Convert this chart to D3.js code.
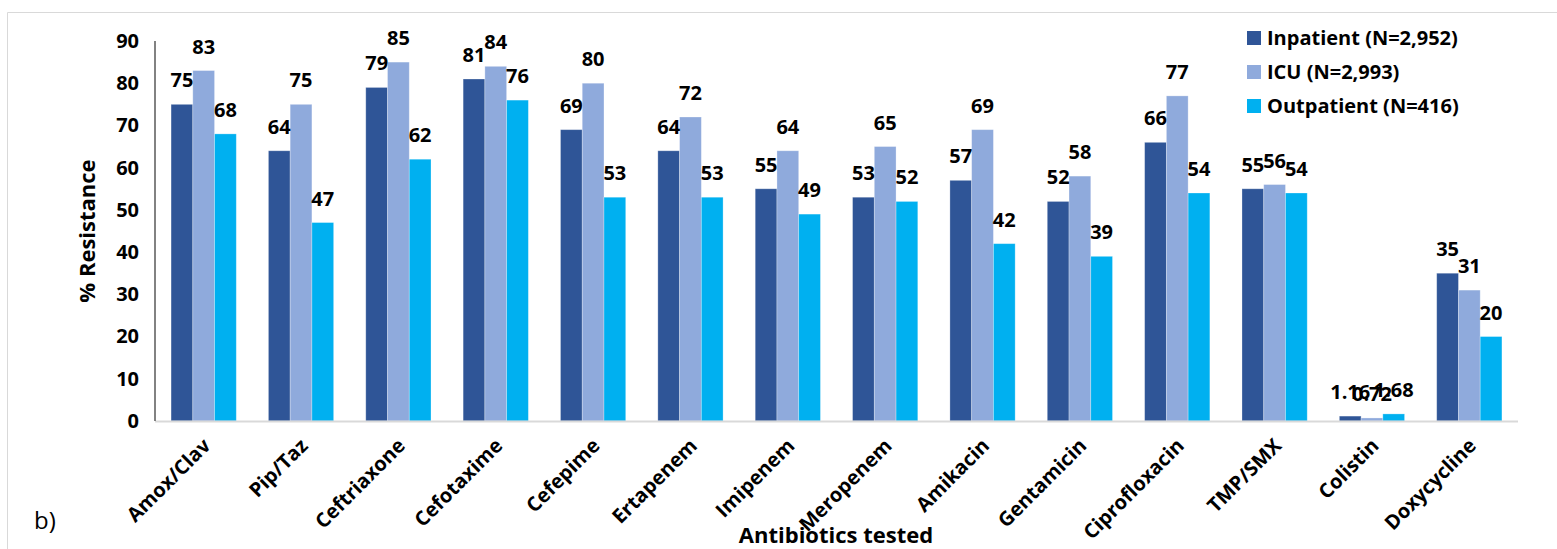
<!DOCTYPE html>
<html>
<head>
<meta charset="utf-8">
<script src="https://cdn.jsdelivr.net/npm/d3@7"></script>
<style>
  html, body { margin: 0; padding: 0; background: #fff; }
  svg { display: block; font-family: "Open Sans", "Noto Sans", sans-serif; }
</style>
</head>
<body>
<svg id="chart" width="1557" height="549"></svg>
<script>
// Antibiotic resistance by patient setting
const antibiotics = ["Amox/Clav", "Pip/Taz", "Ceftriaxone", "Cefotaxime", "Cefepime", "Ertapenem",
  "Imipenem", "Meropenem", "Amikacin", "Gentamicin", "Ciprofloxacin", "TMP/SMX", "Colistin", "Doxycycline"];
const seriesNames = ["Inpatient (N=2,952)", "ICU (N=2,993)", "Outpatient (N=416)"];
const inpatient  = [75, 64, 79, 81, 69, 64, 55, 53, 57, 52, 66, 55, 1.16, 35];
const icu        = [83, 75, 85, 84, 80, 72, 64, 65, 69, 58, 77, 56, 0.72, 31];
const outpatient = [68, 47, 62, 76, 53, 53, 49, 52, 42, 39, 54, 54, 1.68, 20];
const yTicks = [0, 10, 20, 30, 40, 50, 60, 70, 80, 90];
const colors = ["#2F5597", "#8FAADC", "#00B0F0"];

const series = [inpatient, icu, outpatient];
const svg = d3.select("#chart");

// outer frame
svg.append("path")
  .attr("d", "M7.5,549 V12.5 H1557")
  .attr("fill", "none").attr("stroke", "#d9d9d9").attr("stroke-width", 1);

const plotLeft = 155, plotRight = 1518, plotTop = 41, plotBottom = 421;

const x = d3.scaleBand().domain(antibiotics).range([plotLeft, plotRight]).paddingInner(0.33).paddingOuter(0.165);
const xs = d3.scaleBand().domain(d3.range(3)).range([0, x.bandwidth()]);
const y = d3.scaleLinear().domain([0, 90]).range([plotBottom, plotTop]);

// bars
const groups = svg.append("g").selectAll("g")
  .data(antibiotics).join("g")
  .attr("transform", d => `translate(${x(d)},0)`);

groups.selectAll("rect")
  .data((d, i) => series.map((s, k) => ({ k, v: s[i] })))
  .join("rect")
  .attr("x", d => xs(d.k))
  .attr("width", xs.bandwidth())
  .attr("y", d => y(d.v))
  .attr("height", d => y(0) - y(d.v))
  .attr("fill", d => colors[d.k])
  .attr("stroke", "#ffffff").attr("stroke-opacity", 0.35).attr("stroke-width", 0.8);

// value labels
groups.selectAll("text.val")
  .data((d, i) => series.map((s, k) => ({ k, v: s[i] })))
  .join("text").attr("class", "val")
  .attr("x", d => xs(d.k) + xs.bandwidth() / 2)
  .attr("y", d => y(d.v) - 17)
  .attr("text-anchor", "middle")
  .attr("font-size", 20).attr("font-weight", 700).attr("fill", "#000")
  .text(d => String(d.v));

// x baseline
svg.append("line")
  .attr("x1", plotLeft).attr("x2", plotRight).attr("y1", plotBottom + 0.5).attr("y2", plotBottom + 0.5)
  .attr("stroke", "#d9d9d9").attr("stroke-width", 2);

// y axis
const yAxis = svg.append("g")
  .attr("transform", `translate(${plotLeft},0)`)
  .call(d3.axisLeft(y).tickValues(yTicks).tickSize(0).tickPadding(16));
yAxis.select(".domain").attr("stroke", "#595959").attr("stroke-width", 1.5)
  .attr("d", `M0,${plotTop}V${plotBottom}`);
yAxis.selectAll("text")
  .attr("font-family", "'Open Sans', sans-serif")
  .attr("font-size", 20).attr("font-weight", 700).attr("fill", "#000");

// x axis category labels
const xAxis = svg.append("g")
  .attr("transform", `translate(0,${plotBottom})`)
  .call(d3.axisBottom(x).tickSize(0).tickPadding(0));
xAxis.select(".domain").remove();
xAxis.selectAll("text")
  .attr("font-family", "'Open Sans', sans-serif")
  .attr("font-size", 20).attr("font-weight", 700).attr("fill", "#000")
  .attr("text-anchor", "end")
  .attr("dy", 0)
  .attr("transform", "translate(8,26) rotate(-45)");

// axis titles
svg.append("text")
  .attr("transform", "translate(95,231) rotate(-90)")
  .attr("text-anchor", "middle")
  .attr("font-size", 22).attr("font-weight", 700)
  .text("% Resistance");

svg.append("text")
  .attr("x", 836).attr("y", 543)
  .attr("text-anchor", "middle")
  .attr("font-size", 22).attr("font-weight", 700)
  .text("Antibiotics tested");

svg.append("text")
  .attr("x", 34).attr("y", 529)
  .attr("font-size", 24)
  .text("b)");

// legend
const legend = svg.append("g").selectAll("g")
  .data(seriesNames).join("g")
  .attr("transform", (d, i) => `translate(1247,${38 + i * 34})`);
legend.append("rect")
  .attr("x", 0).attr("y", -7).attr("width", 14).attr("height", 14)
  .attr("fill", (d, i) => colors[i]);
legend.append("text")
  .attr("x", 20).attr("y", 0).attr("dy", "0.35em")
  .attr("font-size", 20).attr("font-weight", 700)
  .text(d => d);
</script>
</body>
</html>
